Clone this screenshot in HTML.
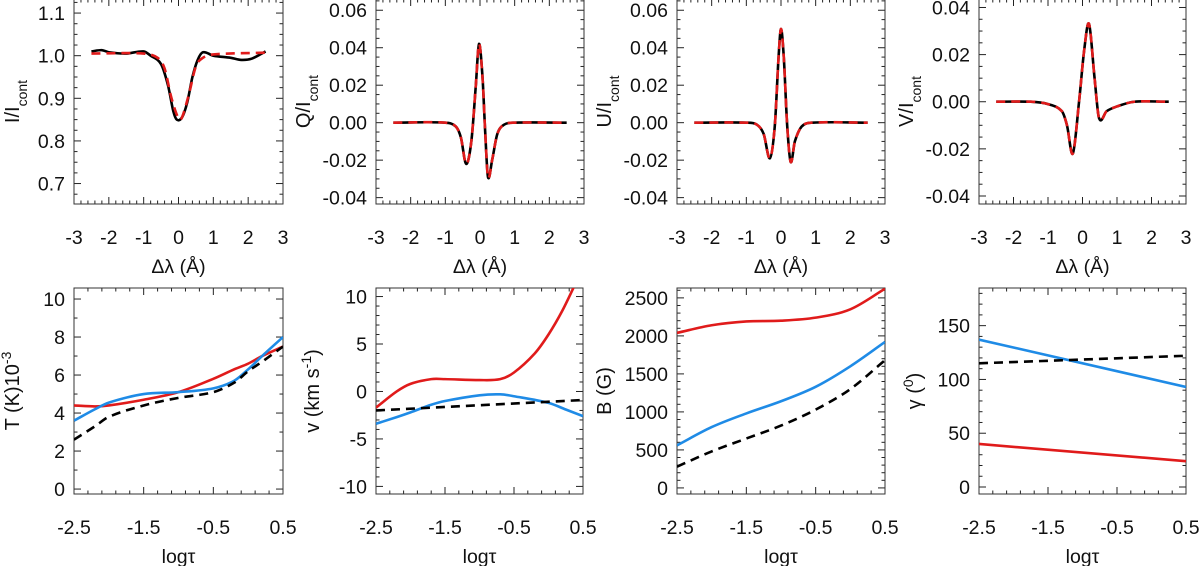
<!DOCTYPE html>
<html><head><meta charset="utf-8"><style>
html,body{margin:0;padding:0;background:#fff;}
svg{display:block;font-family:"Liberation Sans",sans-serif;}
</style></head><body>
<svg id="fig" width="1200" height="566" viewBox="0 0 1200 566"></svg>
<script>
// ---- data ----
const iObsX=[-2.5,-2.2,-2.0,-1.5,-1.0,-0.8,-0.5,-0.3,-0.15,-0.05,0.1,0.25,0.4,0.55,0.7,1.0,1.5,1.8,2.1,2.5];
const iObsY=[1.01,1.013,1.008,1.005,1.01,1.0,0.98,0.93,0.87,0.85,0.855,0.89,0.95,0.99,1.008,1.0,0.995,0.99,0.993,1.01];
const iFitX=[-2.5,-1.0,-0.6,-0.4,-0.2,0.0,0.1,0.3,0.5,0.7,1.0,2.5];
const iFitY=[1.005,1.005,0.995,0.97,0.9,0.853,0.855,0.91,0.975,0.995,1.003,1.007];
const qX=[-2.5,-1.0,-0.7,-0.55,-0.4,-0.25,-0.12,-0.03,0.07,0.15,0.23,0.35,0.5,0.7,1.0,2.5];
const qY=[0,0,-0.002,-0.008,-0.022,-0.01,0.02,0.042,0.025,-0.005,-0.029,-0.02,-0.006,-0.001,0,0];
const uX=[-2.5,-1.0,-0.7,-0.5,-0.32,-0.18,-0.07,0.0,0.08,0.18,0.28,0.4,0.6,0.9,2.5];
const uY=[0,0,-0.001,-0.006,-0.019,-0.002,0.035,0.05,0.035,-0.002,-0.021,-0.01,-0.002,0,0];
const vX=[-2.5,-1.5,-1.0,-0.6,-0.45,-0.28,-0.1,0.05,0.19,0.35,0.48,0.7,1.0,1.5,2.5];
const vY=[0,0,-0.001,-0.004,-0.01,-0.022,0.0,0.022,0.033,0.01,-0.007,-0.004,-0.002,0,0];
const tauX=[-2.5,-2.2,-2.0,-1.5,-1.0,-0.5,-0.2,0.0,0.2,0.5];
const tRed=[4.4,4.35,4.4,4.7,5.1,5.8,6.3,6.6,7.0,7.5];
const tBlue=[3.6,4.2,4.55,5.0,5.1,5.3,5.7,6.3,7.0,8.0];
const tBlack=[2.6,3.3,3.8,4.4,4.8,5.1,5.6,6.2,6.7,7.5];
const vRedX=[-2.5,-2.2,-2.0,-1.7,-1.5,-1.0,-0.7,-0.5,-0.2,0.0,0.2,0.4];
const vRed=[-1.7,0,0.8,1.3,1.3,1.2,1.3,2.0,4.0,6.0,8.5,11.5];
const vBlue=[-3.4,-2.7,-2.2,-1.4,-1.0,-0.4,-0.3,-0.5,-1.2,-1.9,-2.6];
const vBlueX=[-2.5,-2.2,-2.0,-1.7,-1.5,-1.0,-0.7,-0.5,0.0,0.25,0.5];
const vBlackX=[-2.5,0.5];
const vBlack=[-2.0,-0.9];
const bX=[-2.5,-2.0,-1.5,-1.0,-0.5,0.0,0.5];
const bRed=[2040,2140,2190,2200,2240,2350,2620];
const bBlue=[560,800,980,1140,1330,1600,1920];
const bBlack=[280,480,650,820,1030,1300,1680];
const gX=[-2.5,0.5];
const gBlue=[137,93];
const gBlack=[115,122];
const gRed=[40,24];
const topXTicks=[-3,-2,-1,0,1,2,3];
const botXTicks=[-2.5,-1.5,-0.5,0.5];
const iTicks=[0.7,0.8,0.9,1.0,1.1];
const quTicks=[-0.04,-0.02,0.00,0.02,0.04,0.06];
const vTicks=[-0.04,-0.02,0.00,0.02,0.04];
const tTicks=[0,2,4,6,8,10];
const velTicks=[-10,-5,0,5,10];
const bTicks=[0,500,1000,1500,2000,2500];
const gTicks=[0,50,100,150];

const NS="http://www.w3.org/2000/svg";
const svg=document.getElementById('fig');
function mk(tag,attrs,parent){const e=document.createElementNS(NS,tag);for(const k in attrs)e.setAttribute(k,attrs[k]);(parent||svg).appendChild(e);return e;}
function smooth(pts){
  const n=pts.length;if(n<3)return "M"+pts.map(p=>p[0]+","+p[1]).join("L");
  const m=pts.map((p,i)=>{const a=pts[Math.max(i-1,0)],b=pts[Math.min(i+1,n-1)];return (b[1]-a[1])/(b[0]-a[0]);});
  let d="M"+pts[0][0]+","+pts[0][1];
  for(let i=0;i<n-1;i++){const p=pts[i],q=pts[i+1],h=(q[0]-p[0])/3;
    d+=`C${p[0]+h},${p[1]+m[i]*h} ${q[0]-h},${q[1]-m[i+1]*h} ${q[0]},${q[1]}`;}
  return d;}

function panel(cfg){
  const g=mk('g',{});
  
  
  const {x0,x1,y0,y1,xmin,xmax,ymin,ymax}=cfg;
  const sx=v=>x0+(v-xmin)/(xmax-xmin)*(x1-x0);
  const sy=v=>y1-(v-ymin)/(ymax-ymin)*(y1-y0);
  const cp='c'+cfg.name;
  const defs=mk('defs',{},g);const c=mk('clipPath',{id:cp},defs);mk('rect',{x:x0,y:y0,width:x1-x0,height:y1-y0},c);
  const tg=mk('g',{stroke:'#222','stroke-width':1},g);
  
  const xt=cfg.xticks,dx=(xt[1]-xt[0])/cfg.xminor;
  for(let v=xt[0];v<=xt[xt.length-1]+1e-9;v+=dx){const X=sx(v);const maj=Math.abs(((v-xt[0])/(xt[1]-xt[0]))-Math.round((v-xt[0])/(xt[1]-xt[0])))<1e-6;const L=maj?7:3.5;
    mk('line',{x1:X,x2:X,y1:y1,y2:y1-L},tg);mk('line',{x1:X,x2:X,y1:y0,y2:y0+L},tg);}
  const yt=cfg.yticks,dy=(yt[1]-yt[0])/cfg.yminor;
  for(let v=yt[0]-dy*10;v<=ymax;v+=dy){if(v<ymin)continue;const Y=sy(v);const r=(v-yt[0])/(yt[1]-yt[0]);const maj=Math.abs(r-Math.round(r))<1e-6;const L=maj?7:3.5;
    mk('line',{x1:x0,x2:x0+L,y1:Y,y2:Y},tg);mk('line',{x1:x1,x2:x1-L,y1:Y,y2:Y},tg);}
  mk('rect',{x:x0,y:y0,width:x1-x0,height:y1-y0,fill:'none',stroke:'#333','stroke-width':1},g);
  xt.forEach(v=>{const t=mk('text',{x:sx(v),y:y1+40,'text-anchor':'middle','font-size':19.5,fill:'#111'},g);t.textContent=cfg.xfmt(v);
    });
  yt.forEach(v=>{const t=mk('text',{x:x0-9,y:sy(v)+7,'text-anchor':'end','font-size':19.5,fill:'#111'},g);t.textContent=cfg.yfmt(v);
    });
  const xtl=mk('text',{x:(x0+x1)/2,y:y1+69,'text-anchor':'middle','font-size':19.5,fill:'#111'},g);xtl.innerHTML=cfg.xtitle;
  
  const ytl=mk('text',{transform:`translate(${x0-cfg.yoff},${(y0+y1)/2}) rotate(-90)`,'text-anchor':'middle','font-size':20,fill:'#111'},g);ytl.innerHTML=cfg.ytitle;
  
  const sg=mk('g',{'clip-path':`url(#${cp})`},g);
  cfg.series.forEach(s=>{const pts=s.x.map((v,i)=>[sx(v),sy(s.y[i])]);
    const p=mk('path',{d:smooth(pts),fill:'none',stroke:s.c,'stroke-width':s.w||2.6,'stroke-dasharray':s.dash||'none'},sg);
    });
}
const f1=v=>v.toFixed(1),f2=v=>v.toFixed(2),f0=v=>String(v);
const dl='&#916;&#955; (&#197;)';
const lt='log&#964;';
const RED='#e01b1b',BLUE='#1f8be6',BLK='#000';
const topY0=-1,topY1=204;
panel({name:'stokes-i-panel',yoff:55,x0:74,x1:283,y0:topY0,y1:topY1,xmin:-3,xmax:3,ymin:0.652,ymax:1.133,xticks:topXTicks,xminor:5,yticks:iTicks,yminor:4,xfmt:f0,yfmt:f1,xtitle:dl,
 ytitle:'I/I<tspan baseline-shift="sub" font-size="14">cont</tspan>',
 series:[{x:iObsX,y:iObsY,c:BLK,n:'i-observed-line'},{x:iFitX,y:iFitY,c:RED,dash:'9,6',n:'i-fit-line'}]});
panel({name:'stokes-q-panel',yoff:66,x0:376,x1:584,y0:topY0,y1:topY1,xmin:-3,xmax:3,ymin:-0.0434,ymax:0.066,xticks:topXTicks,xminor:5,yticks:quTicks,yminor:4,xfmt:f0,yfmt:f2,xtitle:dl,
 ytitle:'Q/I<tspan baseline-shift="sub" font-size="14">cont</tspan>',
 series:[{x:qX,y:qY,c:BLK,n:'q-observed-line'},{x:qX,y:qY,c:RED,dash:'9,6',n:'q-fit-line'}]});
panel({name:'stokes-u-panel',yoff:66,x0:677,x1:885,y0:topY0,y1:topY1,xmin:-3,xmax:3,ymin:-0.0434,ymax:0.066,xticks:topXTicks,xminor:5,yticks:quTicks,yminor:4,xfmt:f0,yfmt:f2,xtitle:dl,
 ytitle:'U/I<tspan baseline-shift="sub" font-size="14">cont</tspan>',
 series:[{x:uX,y:uY,c:BLK,n:'u-observed-line'},{x:uX,y:uY,c:RED,dash:'9,6',n:'u-fit-line'}]});
panel({name:'stokes-v-panel',yoff:66,x0:979,x1:1186,y0:topY0,y1:topY1,xmin:-3,xmax:3,ymin:-0.0434,ymax:0.0436,xticks:topXTicks,xminor:5,yticks:vTicks,yminor:4,xfmt:f0,yfmt:f2,xtitle:dl,
 ytitle:'V/I<tspan baseline-shift="sub" font-size="14">cont</tspan>',
 series:[{x:vX,y:vY,c:BLK,n:'v-observed-line'},{x:vX,y:vY,c:RED,dash:'9,6',n:'v-fit-line'}]});
const by0=288,by1=494;
panel({name:'temperature-panel',yoff:55,x0:74,x1:283,y0:by0,y1:by1,xmin:-2.5,xmax:0.5,ymin:-0.26,ymax:10.58,xticks:botXTicks,xminor:5,yticks:tTicks,yminor:2,xfmt:f1,yfmt:f0,xtitle:lt,
 ytitle:'T (K)10<tspan baseline-shift="super" font-size="14">-3</tspan>',
 series:[{x:tauX,y:tRed,c:RED,n:'temperature-red-line'},{x:tauX,y:tBlue,c:BLUE,n:'temperature-blue-line'},{x:tauX,y:tBlack,c:BLK,dash:'9,6',n:'temperature-black-dashed-line'}]});
panel({name:'velocity-panel',yoff:57,x0:376,x1:583,y0:by0,y1:by1,xmin:-2.5,xmax:0.5,ymin:-10.8,ymax:10.9,xticks:botXTicks,xminor:5,yticks:velTicks,yminor:5,xfmt:f1,yfmt:f0,xtitle:lt,
 ytitle:'v (km s<tspan baseline-shift="super" font-size="14">-1</tspan>)',
 series:[{x:vRedX,y:vRed,c:RED,n:'velocity-red-line'},{x:vBlueX,y:vBlue,c:BLUE,n:'velocity-blue-line'},{x:vBlackX,y:vBlack,c:BLK,dash:'9,6',n:'velocity-black-dashed-line'}]});
panel({name:'field-strength-panel',yoff:66,x0:677,x1:885,y0:by0,y1:by1,xmin:-2.5,xmax:0.5,ymin:-80,ymax:2630,xticks:botXTicks,xminor:5,yticks:bTicks,yminor:5,xfmt:f1,yfmt:f0,xtitle:lt,
 ytitle:'B (G)',
 series:[{x:bX,y:bRed,c:RED,n:'field-red-line'},{x:bX,y:bBlue,c:BLUE,n:'field-blue-line'},{x:bX,y:bBlack,c:BLK,dash:'9,6',n:'field-black-dashed-line'}]});
panel({name:'inclination-panel',yoff:58,x0:979,x1:1186,y0:by0,y1:by1,xmin:-2.5,xmax:0.5,ymin:-6.5,ymax:185,xticks:botXTicks,xminor:5,yticks:gTicks,yminor:5,xfmt:f1,yfmt:f0,xtitle:lt,
 ytitle:'&#947; (<tspan baseline-shift="super" font-size="14">0</tspan>)',
 series:[{x:gX,y:gRed,c:RED,n:'inclination-red-line'},{x:gX,y:gBlue,c:BLUE,n:'inclination-blue-line'},{x:gX,y:gBlack,c:BLK,dash:'9,6',n:'inclination-black-dashed-line'}]});
</script>
</body></html>
